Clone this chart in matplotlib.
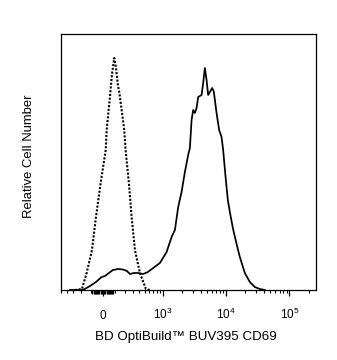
import numpy as np
import matplotlib
matplotlib.use("Agg")
import matplotlib.pyplot as plt

plt.rcParams['font.family'] = ['Liberation Sans', 'DejaVu Sans']
plt.rcParams['mathtext.fontset'] = 'custom'
plt.rcParams['mathtext.rm'] = 'Liberation Sans'
plt.rcParams['mathtext.it'] = 'Liberation Sans:italic'
plt.rcParams['mathtext.bf'] = 'Liberation Sans:bold'

# ---- data (fluorescence intensity vs relative count) ----
control_x = [-276, -193, -144, -94, -59, -19, 23, 31, 59, 76, 97, 112, 131, 144,
             151, 196, 211, 250, 285, 331, 410, 523, 611]
control_y = [0, 1, 17, 40, 73, 107, 140, 160, 193, 215, 232, 223, 205, 198,
             193, 160, 140, 107, 73, 40, 17, 1, 0]

stained_x = [-346, -182, -112, -59, -11, 17, 50, 85, 134, 182, 226, 263, 317, 382,
             469, 565, 694, 894, 1147, 1379, 1557, 1757, 1989, 2243, 2530, 2691,
             2864, 3036, 3229, 3434, 3641, 4119, 4365, 4642, 4938, 5233, 5566,
             6051, 6435, 7098, 7800, 8510, 9018, 9948, 10695, 11500, 12820,
             14824, 16526, 19815, 23750, 28470, 34130, 40920]
stained_y = [0, 0, 4, 8, 13, 14, 17, 20, 21, 20.5, 19, 16, 17, 17,
             16, 18, 22, 27, 38, 53, 60, 83, 98, 118, 135, 142,
             170, 180, 177, 182, 193, 195, 207, 222, 210, 195, 198,
             202, 198, 177, 160, 153, 140, 110, 90, 78, 62,
             45, 33, 17, 8, 3, 1, 0]

major_ticks = [0, 1e3, 1e4, 1e5]
major_labels = ['0', r'$\mathregular{10^{3}}$', r'$\mathregular{10^{4}}$', r'$\mathregular{10^{5}}$']
near_zero_ticks = [-90, -80, -70, -60, -50, -40, -30, -20, -10,
                   10, 20, 30, 40, 50, 60, 70, 80, 90]
minor_ticks = ([-500, -400, -300, -200, -100, 100, 200, 300, 400, 500, 600, 700, 800, 900]
               + [k * 1e3 for k in range(2, 10)] + [k * 1e4 for k in range(2, 10)] + [2e5])

x_limits = (-502, 262144)
y_limits = (0, 256)

xlabel = 'BD OptiBuild\u2122 BUV395 CD69'
ylabel = 'Relative Cell Number'

W = 230.0
def fwd(v):
    return np.arcsinh(np.asarray(v, dtype=float) / W) / np.log(10)

def inv(t):
    return W * np.sinh(np.asarray(t, dtype=float) * np.log(10))

fig = plt.figure(figsize=(3.37, 3.60), dpi=100)
ax = fig.add_axes([61 / 337, 1 - 290 / 360, 255 / 337, 256 / 360])
ax.set_xscale('function', functions=(fwd, inv))

ax.plot(control_x, control_y, color='black', lw=1.5, linestyle=(0, (1, 0.8)))
ax.plot(stained_x, stained_y, color='black', lw=1.25)

ax.set_xlim(*x_limits)
ax.set_ylim(*y_limits)
ax.set_yticks([])

ax.set_xticks(major_ticks)
ax.set_xticklabels(major_labels, fontsize=8.5, va='baseline')
ax.set_xticks(minor_ticks, minor=True)
ax.tick_params(axis='x', which='major', length=4.5, width=0.9, pad=16.5, direction='out')
ax.tick_params(axis='x', which='minor', length=2.5, width=0.8, direction='out')

# dense ticks around zero (thicker marks as in the reference)
trans = ax.get_xaxis_transform()
for t in near_zero_ticks:
    ax.plot([t, t], [0, -0.017], transform=trans, color='black', lw=1.0,
            clip_on=False, solid_capstyle='butt')

for s in ax.spines.values():
    s.set_linewidth(0.9)
    s.set_color('black')

fig.text(186 / 337, 1 - 337 / 360, xlabel, ha='center', va='center', fontsize=9.6)
fig.text(29 / 337, 1 - 156.5 / 360, ylabel, ha='center', va='center', rotation=90, fontsize=9.4)

fig.savefig('out.png', dpi=100)
